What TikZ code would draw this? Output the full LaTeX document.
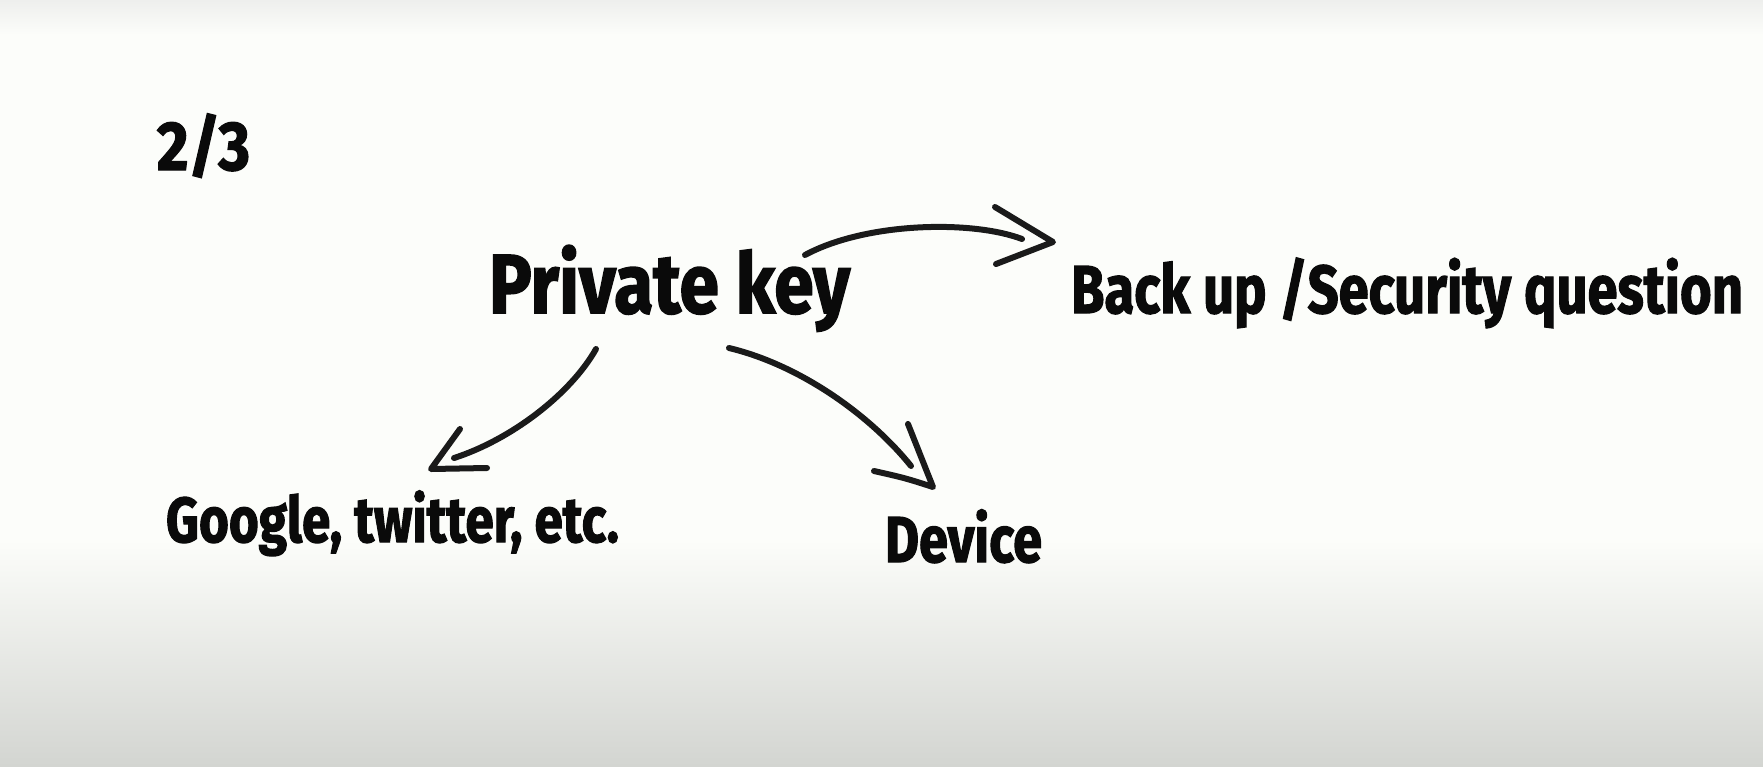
\documentclass[tikz,border=0pt]{standalone}
\usepackage{fontspec}
\setmainfont{Fira Sans}[BoldFeatures={FakeBold=2}]
\usepackage{graphicx}
\definecolor{bgw}{RGB}{252,253,250}
\definecolor{bgtop}{RGB}{238,239,237}
\definecolor{bgbot}{RGB}{211,213,209}
\definecolor{ink}{RGB}{10,10,10}
\definecolor{pen}{RGB}{26,26,26}
\newcommand\fitbox[3]{\resizebox{#1}{#2}{\raisebox{0pt}[\fontcharht\font`H][0pt]{#3}}}
\begin{document}
\begin{tikzpicture}[x=1pt,y=-1pt,
  lbl/.style={inner sep=0pt,outer sep=0pt,anchor=base west,text=ink,font=\fontsize{60}{72}\selectfont\bfseries},
  pencurve/.style={draw=pen,line width=6pt,line cap=round,line join=round}]
\useasboundingbox (0,0) rectangle (1763,766);
\fill[bgw] (0,0) rectangle (1763,766);
\shade[top color=bgtop,bottom color=bgw] (0,0) rectangle (1763,35);
\shade[top color=bgw,bottom color=bgbot] (0,540) rectangle (1763,766);

\node[lbl] (n23) at (157,170) {\fitbox{93pt}{48pt}{2/3}};
\node[lbl] (pk) at (489,313) {\fitbox{361pt}{58pt}{Private key}};
\node[lbl] (bu) at (1071,313) {\fitbox{672pt}{47pt}{Back up /Security question}};
\node[lbl] (gg) at (166,542) {\fitbox{453pt}{44pt}{Google, twitter, etc.}};
\node[lbl] (dv) at (885,562) {\fitbox{157pt}{45pt}{Device}};

% arrow to Back up
\coordinate (a1s) at (805,255);
\coordinate (a1e) at (1022,239);
\coordinate (a1t) at (1053,242);
\coordinate (a1u) at (995,207);
\coordinate (a1l) at (996,264);
\draw[pencurve] (a1s) .. controls (866,222) and (972,220) .. (a1e);
\draw[pencurve] (a1u) -- (a1t) -- (a1l);

% arrow to Google
\coordinate (a2s) at (596,349);
\coordinate (a2e) at (454,458);
\coordinate (a2t) at (431,469);
\coordinate (a2u) at (460,429);
\coordinate (a2l) at (487,468);
\draw[pencurve] (a2s) .. controls (570,395) and (510,440) .. (a2e);
\draw[pencurve] (a2u) -- (a2t) -- (a2l);

% arrow to Device
\coordinate (a3s) at (729,348);
\coordinate (a3e) at (911,466);
\coordinate (a3t) at (933,487);
\coordinate (a3u) at (908,424);
\coordinate (a3l) at (874,471);
\draw[pencurve] (a3s) .. controls (800,365) and (870,415) .. (a3e);
\draw[pencurve] (a3u) -- (a3t) .. controls (905,478) .. (a3l);
\end{tikzpicture}
\end{document}
